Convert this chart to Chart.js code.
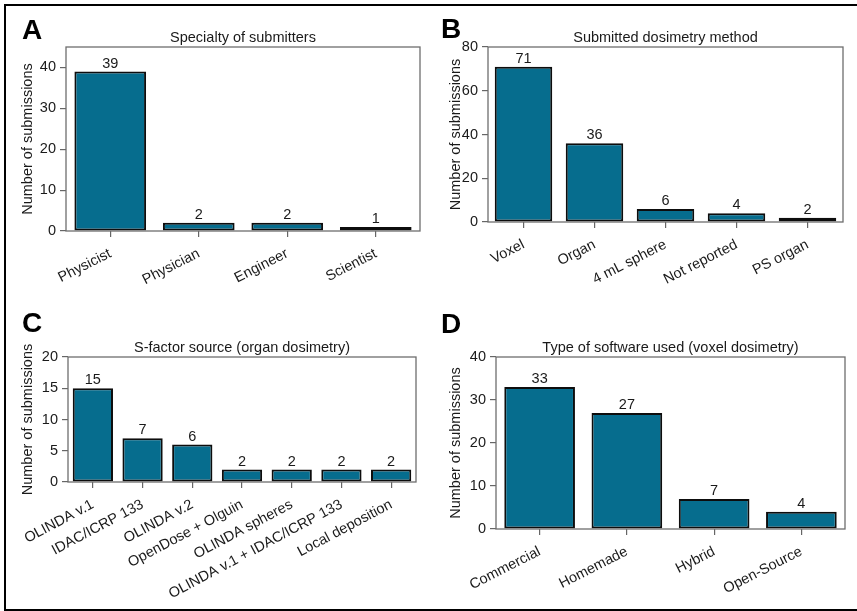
<!DOCTYPE html>
<html>
<head>
<meta charset="utf-8">
<script src="https://cdn.jsdelivr.net/npm/chart.js@4.4.0/dist/chart.umd.min.js"></script>
<style>
  html, body { margin:0; padding:0; background:#fff; width:857px; height:611px; overflow:hidden; }
  #frame { position:absolute; left:4px; top:4px; width:900px; height:603px; border:2px solid #000; border-right:none; }
  canvas { position:absolute; }
</style>
</head>
<body>
<div id="frame"></div>
<canvas id="cA" width="428" height="300" style="left:0;top:0"></canvas>
<canvas id="cB" width="429" height="300" style="left:428px;top:0"></canvas>
<canvas id="cC" width="428" height="311" style="left:0;top:300px"></canvas>
<canvas id="cD" width="429" height="311" style="left:428px;top:300px"></canvas>
<script>
// ---- data ----
const catsA = ['Physicist', 'Physician', 'Engineer', 'Scientist'];
const valsA = [39, 2, 2, 1];
const ticksA = [0, 10, 20, 30, 40];
const maxA = 45;

const catsB = ['Voxel', 'Organ', '4 mL sphere', 'Not reported', 'PS organ'];
const valsB = [71, 36, 6, 4, 2];
const ticksB = [0, 20, 40, 60, 80];
const maxB = 80;

const catsC = ['OLINDA v.1', 'IDAC/ICRP 133', 'OLINDA v.2', 'OpenDose + Olguin', 'OLINDA spheres', 'OLINDA v.1 + IDAC/ICRP 133', 'Local deposition'];
const valsC = [15, 7, 6, 2, 2, 2, 2];
const ticksC = [0, 5, 10, 15, 20];
const maxC = 20;

const catsD = ['Commercial', 'Homemade', 'Hybrid', 'Open-Source'];
const valsD = [33, 27, 7, 4];
const ticksD = [0, 10, 20, 30, 40];
const maxD = 40;

const titles = {
  A: 'Specialty of submitters',
  B: 'Submitted dosimetry method',
  C: 'S-factor source (organ dosimetry)',
  D: 'Type of software used (voxel dosimetry)'
};
const yTitle = 'Number of submissions';

// ---- style ----
const FONT = '"Liberation Sans", Arial, Helvetica, sans-serif';
const FS = 14.5;
const TXT = '#1a1a1a';
const BAR = '#066d8e';
Chart.defaults.font.family = FONT;
Chart.defaults.font.size = FS;
Chart.defaults.color = TXT;

const panelPlugin = {
  id: 'panelDecor',
  afterDatasetsDraw(chart, args, opts) {
    const ctx = chart.ctx;
    const ca = chart.chartArea;
    ctx.save();
    // box around plot area
    ctx.strokeStyle = '#6e6e6e';
    ctx.lineWidth = 1.3;
    ctx.strokeRect(ca.left, ca.top, ca.right - ca.left, ca.bottom - ca.top);
    // value labels
    ctx.fillStyle = TXT;
    ctx.font = FS + 'px ' + FONT;
    ctx.textAlign = 'center';
    ctx.textBaseline = 'alphabetic';
    const meta = chart.getDatasetMeta(0);
    const data = chart.data.datasets[0].data;
    meta.data.forEach((bar, i) => {
      ctx.fillText(String(data[i]), bar.x, bar.y - 4);
    });
    // title
    ctx.fillText(opts.title, (ca.left + ca.right) / 2, ca.top - 5.5);
    // panel letter
    ctx.font = 'bold 28px ' + FONT;
    ctx.textAlign = 'left';
    ctx.fillStyle = '#000';
    ctx.fillText(opts.letter, opts.lx, opts.ly);
    ctx.restore();
  }
};

function makeChart(id, cats, vals, yticks, ymax, cfg) {
  return new Chart(document.getElementById(id), {
    type: 'bar',
    data: {
      labels: cats,
      datasets: [{
        data: vals,
        backgroundColor: BAR,
        borderColor: '#0d0d0d',
        borderWidth: 2,
        borderSkipped: false,
        categoryPercentage: 1,
        barPercentage: 0.81
      }]
    },
    options: {
      responsive: false,
      animation: false,
      devicePixelRatio: 1,
      layout: { padding: { left: 15, right: cfg.pr, top: cfg.pt, bottom: 0 } },
      plugins: {
        legend: { display: false },
        tooltip: { enabled: false },
        panelDecor: { title: cfg.title, letter: cfg.letter, lx: cfg.lx, ly: cfg.ly }
      },
      scales: {
        x: {
          offset: true,
          grid: { offset: false, drawOnChartArea: false, drawTicks: true, tickLength: 6, color: '#666', lineWidth: 1.2 },
          border: { display: false },
          ticks: { autoSkip: false, minRotation: cfg.rot, maxRotation: cfg.rot, padding: cfg.tp, color: TXT, font: { size: FS } },
          afterFit(s) { s.height = cfg.xh; s.paddingLeft = 0; s.paddingRight = 0; }
        },
        y: {
          min: 0,
          max: ymax,
          grid: { drawOnChartArea: false, drawTicks: true, tickLength: 6, color: '#666', lineWidth: 1.2 },
          border: { display: false },
          ticks: { padding: 4, color: TXT, font: { size: FS } },
          afterBuildTicks(s) { s.ticks = yticks.map(v => ({ value: v })); },
          title: { display: true, text: yTitle, color: TXT, font: { size: FS }, padding: { top: 4, bottom: 4 } },
          afterFit(s) { s.width = cfg.yw; s.paddingTop = 0; s.paddingBottom = 0; }
        }
      }
    },
    plugins: [panelPlugin]
  });
}

makeChart('cA', catsA, valsA, ticksA, maxA, { title: titles.A, letter: 'A', lx: 22, ly: 39, pr: 8, pt: 47, yw: 51, xh: 69, rot: 27, tp: 8 });
makeChart('cB', catsB, valsB, ticksB, maxB, { title: titles.B, letter: 'B', lx: 13, ly: 38, pr: 14, pt: 47, yw: 45, xh: 78, rot: 27, tp: 8 });
makeChart('cC', catsC, valsC, ticksC, maxC, { title: titles.C, letter: 'C', lx: 22, ly: 32, pr: 12, pt: 57, yw: 53, xh: 129, rot: 28, tp: 8 });
makeChart('cD', catsD, valsD, ticksD, maxD, { title: titles.D, letter: 'D', lx: 13, ly: 33, pr: 12, pt: 57, yw: 53, xh: 82, rot: 27, tp: 8 });
</script>
</body>
</html>
